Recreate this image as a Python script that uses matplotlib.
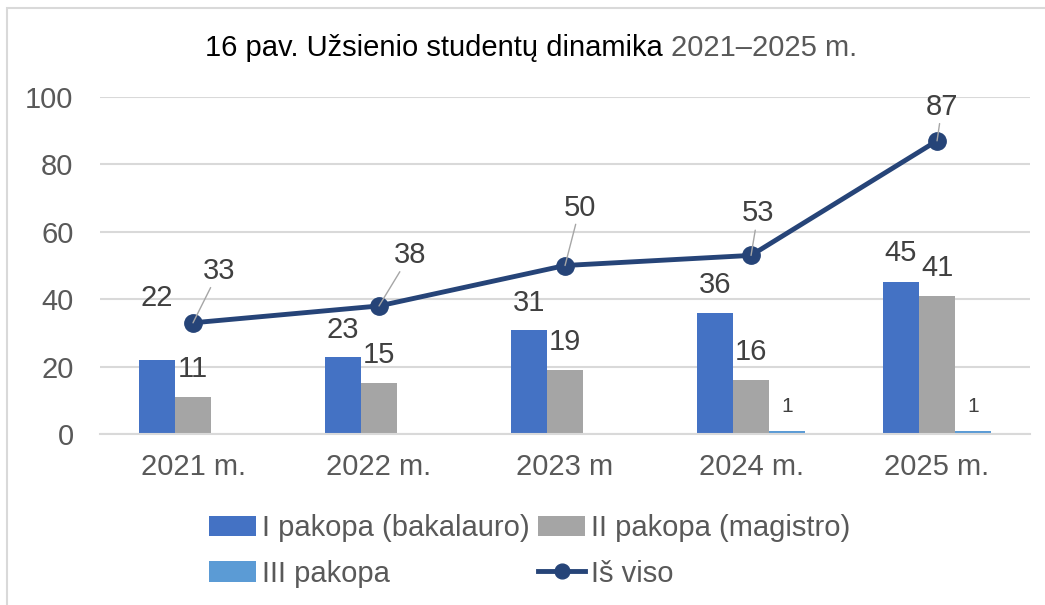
import matplotlib.pyplot as plt
import numpy as np
from matplotlib.patches import Rectangle

plt.rcParams['font.family'] = ['Liberation Sans', 'DejaVu Sans']

years = ['2021 m.', '2022 m.', '2023 m', '2024 m.', '2025 m.']
bachelor = [22, 23, 31, 36, 45]
master = [11, 15, 19, 16, 41]
phd = [0, 0, 0, 1, 1]
total = [33, 38, 50, 53, 87]

# label offsets in pixels (tuned to match the reference)
bachelor_dy = [62, 27, 27, 28, 29]
total_off = [(26, 52), (31, 51), (15, 58), (7, 42), (5, 34)]

c_blue = '#4472C4'
c_gray = '#A5A5A5'
c_light = '#5B9BD5'
c_line = '#264478'
c_txt = '#404040'
c_tick = '#595959'
fs = 21

fig = plt.figure(figsize=(10.45, 6.05), dpi=100)
ax = fig.add_axes([0.0957, 0.2826, 0.89, 0.5571])

# chart frame (only the top and left edges are visible)
fig.add_artist(Rectangle((7/1045, -0.1), 1.2, 1 - 8/605 + 0.1,
                         transform=fig.transFigure, fill=False,
                         edgecolor='#d9d9d9', lw=1.5))

x = np.arange(len(years))
w = 0.194

b1 = ax.bar(x - w, bachelor, w, color=c_blue, zorder=2)
b2 = ax.bar(x, master, w, color=c_gray, zorder=2)
b3 = ax.bar(x + w, phd, w, color=c_light, zorder=2)
ln, = ax.plot(x, total, color=c_line, lw=3.5, marker='o', ms=12.5, zorder=3)

for i in range(len(years)):
    ax.annotate(str(bachelor[i]), (x[i] - w, bachelor[i]), xytext=(0, bachelor_dy[i]),
                textcoords='offset pixels', ha='center', va='center',
                fontsize=fs, color=c_txt)
    ax.annotate(str(master[i]), (x[i], master[i]), xytext=(0, 28),
                textcoords='offset pixels', ha='center', va='center',
                fontsize=fs, color=c_txt)
    if phd[i] > 0:
        ax.annotate(str(phd[i]), (x[i] + w, phd[i]), xytext=(0, 24),
                    textcoords='offset pixels', ha='center', va='center',
                    fontsize=15, color=c_txt)
    ax.annotate(str(total[i]), (x[i], total[i]), xytext=total_off[i],
                textcoords='offset pixels', ha='center', va='center',
                fontsize=fs, color=c_txt, zorder=4,
                arrowprops=dict(arrowstyle='-', color='#a6a6a6', lw=1,
                                shrinkA=0, shrinkB=0))

ax.set_xlim(-0.5, len(years) - 0.5)
ax.set_ylim(0, 100)
ax.set_yticks(range(0, 101, 20))
ax.set_xticks(x)
ax.set_xticklabels(years)
ax.tick_params(length=0, labelsize=fs, labelcolor=c_tick)
ax.tick_params(axis='x', pad=14)
ax.tick_params(axis='y', pad=19)
ax.yaxis.grid(True, color='#d9d9d9', lw=1.5, zorder=0)
ax.set_axisbelow(True)
for s in ['top', 'right', 'left']:
    ax.spines[s].set_visible(False)
ax.spines['bottom'].set_color('#d9d9d9')
ax.spines['bottom'].set_linewidth(1.5)

# title: black part then gray years part on the same baseline
ty = 1 - 56 / 605
t1 = fig.text(205 / 1045, ty, '16 pav. Užsienio studentų dinamika ', fontsize=fs,
              color='black', va='baseline')
fig.canvas.draw()
bb = t1.get_window_extent()
fig.text(bb.x1 / fig.bbox.width, ty, '2021–2025 m.', fontsize=fs,
         color=c_tick, va='baseline')

ax.legend([b1, b3, b2, ln],
          ['I pakopa (bakalauro)', 'III pakopa', 'II pakopa (magistro)', 'Iš viso'],
          ncol=2, loc='upper center', bbox_to_anchor=(0.462, -0.16), frameon=False,
          fontsize=fs, labelcolor=c_tick, handlelength=1.6, handletextpad=0.2,
          columnspacing=0.3, labelspacing=0.6, markerscale=0.85)

fig.savefig('out.png', dpi=100)
